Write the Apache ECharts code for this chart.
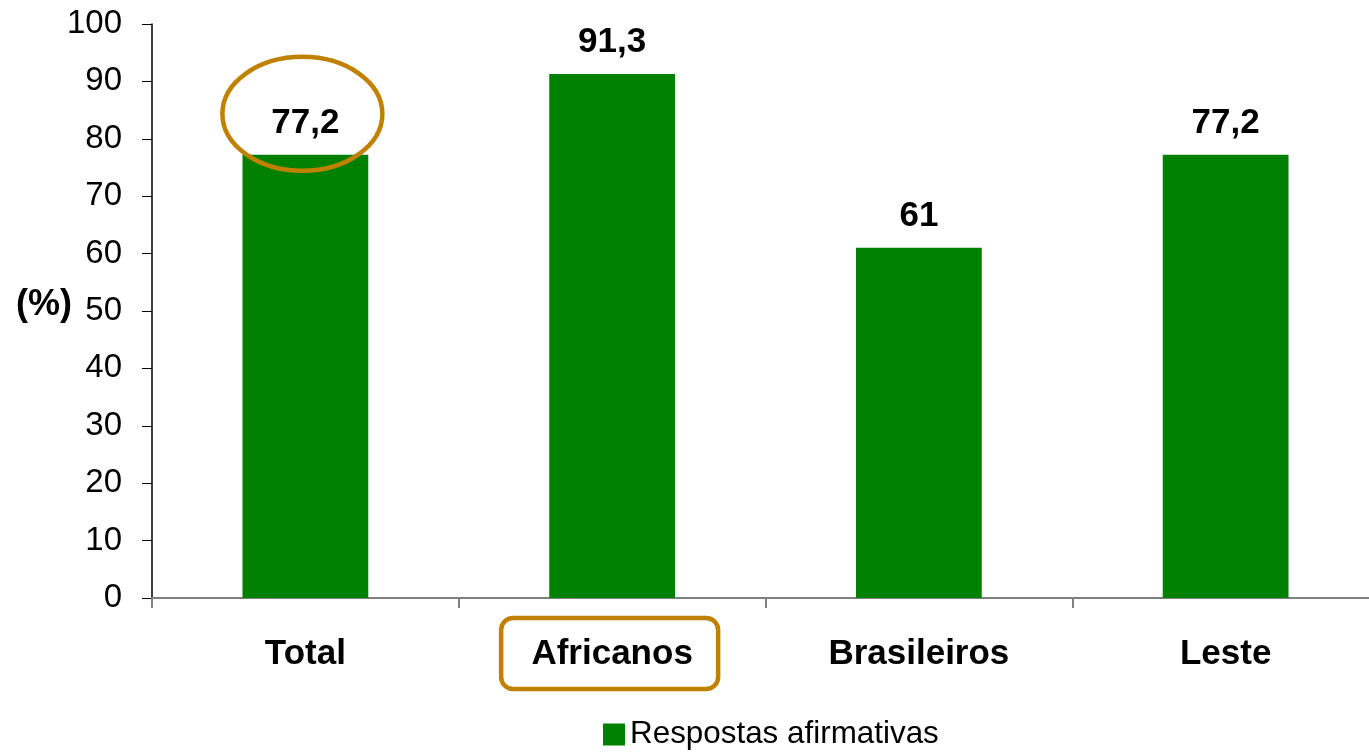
<!DOCTYPE html>
<html>
<head>
<meta charset="utf-8">
<title>Respostas afirmativas</title>
<script src="https://cdn.jsdelivr.net/npm/echarts@6/dist/echarts.min.js"></script>
<style>
  html, body { margin: 0; padding: 0; background: #fff; overflow: hidden; }
  /* o gráfico original corta a última categoria na borda direita */
  #chart { width: 1381px; height: 754px; }
</style>
</head>
<body>
<div id="chart"></div>
<script>
var categories = ['Total', 'Africanos', 'Brasileiros', 'Leste'];
var values = [77.2, 91.3, 61, 77.2];
var valueLabels = ['77,2', '91,3', '61', '77,2'];
var yTicks = [0, 10, 20, 30, 40, 50, 60, 70, 80, 90, 100];
var seriesName = 'Respostas afirmativas';

var green = '#008000';
var orange = '#C08000';
var font = 'Arial, "Liberation Sans", sans-serif';

var chartDom = document.getElementById('chart');
var myChart = echarts.init(chartDom);

var option = {
    animation: false,
    grid: { left: 152, right: 2, top: 24, bottom: 156 },
    legend: {
        bottom: -1,
        left: 598,
        itemWidth: 22,
        itemHeight: 22,
        itemGap: 8,
        textStyle: { fontFamily: font, fontSize: 31.4, color: '#000' },
        data: [{ name: seriesName, icon: 'rect' }]
    },
    xAxis: {
        type: 'category',
        data: categories,
        boundaryGap: true,
        axisLine: { lineStyle: { color: '#808080', width: 2 } },
        axisTick: { show: true, length: 10, lineStyle: { color: '#808080', width: 2 } },
        axisLabel: {
            margin: 39,
            fontFamily: font,
            fontSize: 35,
            fontWeight: 'bold',
            color: '#000'
        }
    },
    yAxis: {
        type: 'value',
        min: 0,
        max: 100,
        interval: 10,
        splitLine: { show: false },
        axisLine: { show: true, lineStyle: { color: '#000', width: 1.5 } },
        axisTick: { show: true, length: 10, lineStyle: { color: '#000' } },
        axisLabel: {
            margin: 30,
            fontFamily: font,
            fontSize: 33,
            color: '#000',
            formatter: function (v) { return yTicks.indexOf(v) >= 0 ? String(v) : ''; }
        }
    },
    series: [
        {
            name: seriesName,
            type: 'bar',
            data: values,
            barWidth: '41%',
            itemStyle: { color: green },
            label: {
                show: true,
                position: 'top',
                distance: 14,
                fontFamily: font,
                fontSize: 35,
                fontWeight: 'bold',
                color: '#000',
                formatter: function (p) { return valueLabels[p.dataIndex]; }
            }
        }
    ]
};
myChart.setOption(option);

// anotações: elipse em volta do "Total" e caixa em volta de "Africanos"
var pTotal = myChart.convertToPixel({ gridIndex: 0 }, [0, values[0]]);
var pAfr = myChart.convertToPixel({ gridIndex: 0 }, [1, 0]);
myChart.setOption({
    graphic: [
        {
            type: 'text',
            left: 16,
            top: 287,
            style: { text: '(%)', fontFamily: font, fontSize: 36, fontWeight: 'bold', fill: '#000' }
        },
        {
            type: 'ellipse',
            shape: { cx: pTotal[0] - 3, cy: pTotal[1] - 41, rx: 80, ry: 57 },
            style: { fill: 'none', stroke: orange, lineWidth: 4.5 },
            z: 10
        },
        {
            type: 'rect',
            shape: { x: pAfr[0] - 111, y: pAfr[1] + 20, width: 217, height: 71, r: 12 },
            style: { fill: 'none', stroke: orange, lineWidth: 4.5 },
            z: 10
        }
    ]
});
</script>
</body>
</html>
